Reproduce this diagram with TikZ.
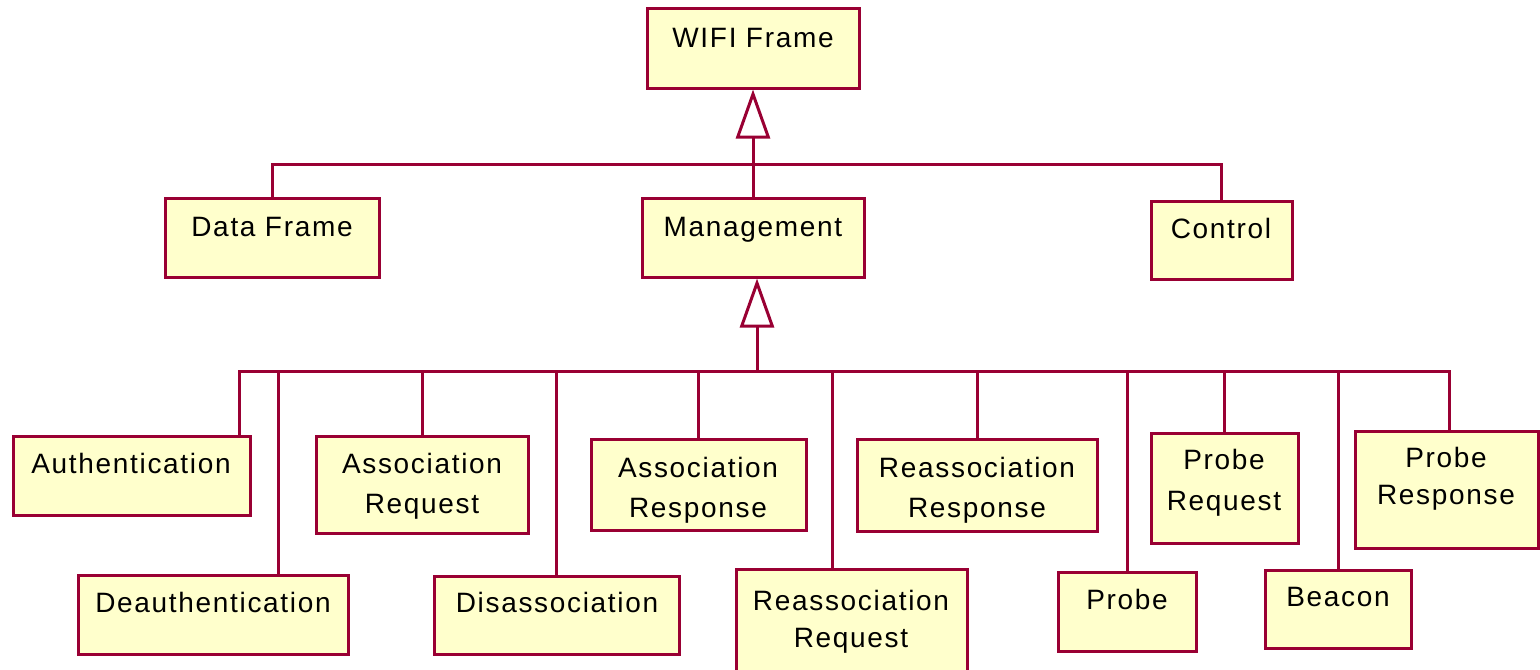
\documentclass[tikz,border=0pt]{standalone}
\usepackage{fontspec}
\setmainfont{Liberation Sans}[LetterSpace=6]
\usetikzlibrary{fit,arrows.meta,calc}
\definecolor{umlline}{HTML}{990033}
\definecolor{umlfill}{HTML}{FFFFCC}
\begin{document}
\begin{tikzpicture}[x=0.5pt,y=-0.5pt,
  box/.style={draw=umlline, fill=umlfill, line width=1.5pt, inner sep=0pt},
  txt/.style={font=\fontsize{14}{19}\selectfont, text=black, inner sep=0pt, anchor=base},
  conn/.style={draw=umlline, line width=1.5pt},
  inherit/.style={conn, -{Triangle[open, length=24.5pt, width=17pt, fill=white]}}]
\useasboundingbox (0,0) rectangle (1540,669);
\clip (0,0) rectangle (1540,669);
% boxes
\node[box, fit={(647,8) (859,88)}] (wifi) {};
\node[box, fit={(165,198) (379,277)}] (data) {};
\node[box, fit={(642,198) (864,277)}] (mgmt) {};
\node[box, fit={(1151,201) (1292,279)}] (ctrl) {};
\node[box, fit={(13,436) (250,515)}] (auth) {};
\node[box, fit={(78,575) (348,654)}] (deauth) {};
\node[box, fit={(316,436) (528,533)}] (assreq) {};
\node[box, fit={(434,576) (679,654)}] (disass) {};
\node[box, fit={(591,439) (806,530)}] (assresp) {};
\node[box, fit={(736,569) (967,690)}] (reareq) {};
\node[box, fit={(857,439) (1097,531)}] (rearesp) {};
\node[box, fit={(1058,572) (1196,651)}] (probe) {};
\node[box, fit={(1151,433) (1298,543)}] (prreq) {};
\node[box, fit={(1265,570) (1411,648)}] (beacon) {};
\node[box, fit={(1355,431) (1538,548)}] (prresp) {};
% texts
\node[txt] (wifiT) at (753,47) {WIFI Frame};
\node[txt] (dataT) at (272,236) {Data Frame};
\node[txt] (mgmtT) at (753,236) {Management};
\node[txt] (ctrlT) at (1221,238) {Control};
\node[txt] (authT) at (131,473) {Authentication};
\node[txt] (assreqT1) at (422,473) {Association};
\node[txt] (assreqT2) at (422,513) {Request};
\node[txt] (deauthT) at (213,612) {Deauthentication};
\node[txt] (disassT) at (557,612) {Disassociation};
\node[txt] (assrespT1) at (698,477) {Association};
\node[txt] (assrespT2) at (698,517) {Response};
\node[txt] (reareqT1) at (851,610) {Reassociation};
\node[txt] (reareqT2) at (851,647) {Request};
\node[txt] (rearespT1) at (977,477) {Reassociation};
\node[txt] (rearespT2) at (977,517) {Response};
\node[txt] (probeT) at (1127,609) {Probe};
\node[txt] (prreqT1) at (1224,469) {Probe};
\node[txt] (prreqT2) at (1224,510) {Request};
\node[txt] (beaconT) at (1338,606) {Beacon};
\node[txt] (prrespT1) at (1446,467) {Probe};
\node[txt] (prrespT2) at (1446,504) {Response};
% upper level
\coordinate (bar1) at ($(wifi.south)+(0,75)$);
\draw[conn] (data.north) |- (ctrl.north |- bar1) -- (ctrl.north);
\draw[inherit] (mgmt.north) -- (wifi.south);
% lower level
\coordinate (apex2) at ($(mgmt.south)+(4,0)$);
\coordinate (bar2) at ($(mgmt.south)+(4,93)$);
\coordinate (authC) at ($(auth.north east)+(-12,0)$);
\coordinate (deauthC) at ($(deauth.north)+(65,0)$);
\coordinate (reareqC) at ($(reareq.north)+(-19,0)$);
\coordinate (prrespC) at ($(prresp.north)+(3,0)$);
\draw[conn] (authC) |- (prrespC |- bar2) -- (prrespC);
\foreach \c in {deauthC, assreq.north, disass.north, assresp.north, reareqC, rearesp.north, probe.north, prreq.north, beacon.north}
  \draw[conn] (\c |- bar2) -- (\c);
\draw[inherit] (bar2) -- (apex2);
\end{tikzpicture}
\end{document}
